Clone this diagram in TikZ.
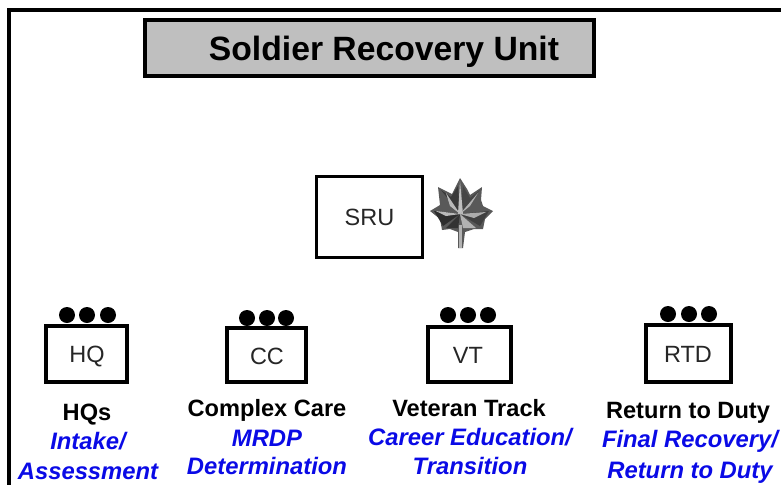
\documentclass[tikz,border=0pt]{standalone}
\usepackage{fontspec}
\setmainfont{Liberation Sans}
\definecolor{titlegray}{HTML}{BFBFBF}
\definecolor{textblue}{HTML}{0A0AE6}
\definecolor{boxtext}{HTML}{262626}
\tikzset{
  frameline/.style={line width=3.2pt,black},
  titlebox/.style={draw=black,line width=3.2pt,fill=titlegray,minimum width=449pt,minimum height=56pt,inner sep=0pt},
  titletext/.style={font=\fontsize{33.7}{38}\selectfont\bfseries,inner sep=0pt,text=black,anchor=base},
  unitbox/.style={draw=black,line width=3.2pt,fill=white,inner sep=0pt},
  unittext/.style={font=\fontsize{23.5}{27}\selectfont,text=boxtext,inner sep=0pt,anchor=base},
  rankdot/.style={circle,fill=black,inner sep=0pt,minimum size=16pt},
  namelabel/.style={font=\fontsize{23.6}{27}\selectfont\bfseries,inner sep=0pt,text=black,anchor=base},
  rolelabel/.style={font=\fontsize{23.8}{27}\selectfont\bfseries\itshape,inner sep=0pt,text=textblue,anchor=base},
}
\begin{document}
\begin{tikzpicture}[x=1pt,y=-1pt]
\useasboundingbox (0,0) rectangle (781,485);
\draw[frameline] (781,10) -- (9,10) -- (9,485);
\node[titlebox] (title) at (369.5,48) {};
\node[titletext] (titlet) at (384,60) {Soldier Recovery Unit};
\node[unitbox,minimum width=106pt,minimum height=81pt] (sru) at (369.5,217) {};
\node[unittext] (srut) at (369.5,225) {SRU};
% oak leaf
\fill[gray!70!black] (460,178) -- (467,189) -- (470,195) -- (482,187) -- (481,200) -- (483,206) -- (493,211) -- (485,219) -- (483,229) -- (474,229) -- (465,232) -- (463,248) -- (458,248) -- (458,232) -- (450,229) -- (442,230) -- (440,219) -- (430,211) -- (440,205) -- (438,187) -- (452,194) -- cycle;
\fill[gray!45!black] (460,214) -- (441,190) -- (451,197) -- (458,186) -- cycle;
\fill[gray!55!black] (460,214) -- (480,190) -- (470,198) -- (463,186) -- cycle;
\fill[gray!35!black] (460,214) -- (434,211) -- (443,226) -- cycle;
\fill[gray!50!black] (460,214) -- (489,211) -- (480,226) -- cycle;
\fill[gray!40!black] (460,214) -- (446,228) -- (458,228) -- cycle;
\fill[gray!60] (460,214) -- (476,228) -- (463,228) -- cycle;
\fill[gray!50] (460,181) -- (463,214) -- (458,214) -- cycle;
\fill[gray!55] (446,193) -- (460,214) -- (450,206) -- cycle;
\fill[gray!60] (478,193) -- (460,214) -- (470,206) -- cycle;
\fill[gray!55] (436,211) -- (460,214) -- (446,216) -- cycle;
\fill[gray!65] (486,212) -- (460,214) -- (474,218) -- cycle;
\fill[gray!60] (459,225) rectangle (462,248);
% units
\node[unitbox,minimum width=81pt,minimum height=56pt] (hq) at (86.5,354) {};
\node[unittext] (hqt) at (87,362) {HQ};
\node[unitbox,minimum width=79pt,minimum height=54pt] (cc) at (266.5,355) {};
\node[unittext] (cct) at (267,364) {CC};
\node[unitbox,minimum width=83pt,minimum height=55pt] (vt) at (469.5,354.5) {};
\node[unittext] (vtt) at (468,363) {VT};
\node[unitbox,minimum width=85pt,minimum height=57pt] (rtd) at (688.5,353.5) {};
\node[unittext] (rtdt) at (688,362) {RTD};
% rank dots
\node[rankdot] (hqa) at (67,315) {};
\node[rankdot] (hqb) at (87,315) {};
\node[rankdot] (hqc) at (108,315) {};
\node[rankdot] (cca) at (247,318) {};
\node[rankdot] (ccb) at (267,318) {};
\node[rankdot] (ccc) at (286,318) {};
\node[rankdot] (vta) at (448,315) {};
\node[rankdot] (vtb) at (468,315) {};
\node[rankdot] (vtc) at (488,315) {};
\node[rankdot] (rtda) at (668,314) {};
\node[rankdot] (rtdb) at (689,314) {};
\node[rankdot] (rtdc) at (709,314) {};
% labels
\node[namelabel] (l1) at (87,420) {HQs};
\node[rolelabel] (r1a) at (88,449) {Intake/};
\node[rolelabel] (r1b) at (88,479) {Assessment};
\node[namelabel] (l2) at (267,416) {Complex Care};
\node[rolelabel] (r2a) at (267,446) {MRDP};
\node[rolelabel] (r2b) at (267,474) {Determination};
\node[namelabel] (l3) at (469,416) {Veteran Track};
\node[rolelabel] (r3a) at (470,445) {Career Education/};
\node[rolelabel] (r3b) at (470,474) {Transition};
\node[namelabel] (l4) at (688,418) {Return to Duty};
\node[rolelabel] (r4a) at (690,447) {Final Recovery/};
\node[rolelabel] (r4b) at (690,478) {Return to Duty};
\end{tikzpicture}
\end{document}
